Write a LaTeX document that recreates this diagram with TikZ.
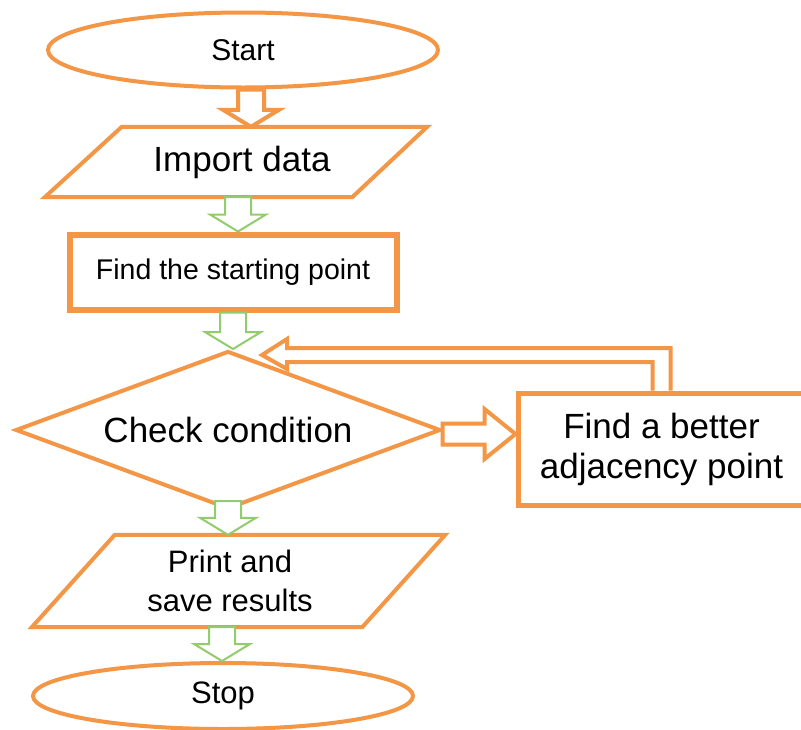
\documentclass[tikz,border=0pt]{standalone}
\usepackage{fontspec}
\setmainfont{Liberation Sans}
\usetikzlibrary{shapes.geometric, calc}

\definecolor{flowOrange}{RGB}{243,150,70}
\definecolor{flowGreen}{RGB}{146,204,110}

% hollow block arrow pointing down, #2 = top of shaft, #3 = tip
\newcommand\blockdown[3]{%
  \path[#1] let \p1=#2, \p2=#3 in
    (\x1-13pt,\y1) -- (\x1+13pt,\y1) -- (\x1+13pt,\y2+17pt) -- (\x1+28pt,\y2+17pt)
    -- (\x1,\y2) -- (\x1-28pt,\y2+17pt) -- (\x1-13pt,\y2+17pt) -- cycle;}

\tikzset{
  terminal/.style={ellipse, draw=flowOrange, line width=4pt, fill=white},
  process/.style={rectangle, draw=flowOrange, line width=5pt, fill=white},
  decision/.style={diamond, draw=flowOrange, line width=4pt, fill=white, aspect=2.7, inner sep=0pt},
  iobody/.style={rectangle, inner sep=0pt},
  ioline/.style={draw=flowOrange, line width=4pt},
  greenblock/.style={draw=flowGreen, line width=2pt, fill=white},
  orangeblock/.style={draw=flowOrange, line width=4pt, fill=white},
}

\begin{document}
\begin{tikzpicture}[x=1pt, y=-1pt]
\useasboundingbox[fill=white] (0,0) rectangle (801,729);

\begin{scope}[every node/.style={align=center}]
    \node (start) at (243, 50) [terminal, minimum width=390, minimum height=75,
        font=\fontsize{30}{36}\selectfont] {Start};

    \node (import) at (242, 162) [iobody, minimum width=306, minimum height=70,
        font=\fontsize{35}{42}\selectfont] {Import data};

    \node (find) at (233, 272) [process, line width=6pt, minimum width=327, minimum height=75,
        font=\fontsize{28.5}{34}\selectfont] {Find the starting point};

    \node (check) at (228, 430) [decision, minimum width=425, minimum height=158,
        font=\fontsize{35}{42}\selectfont] {Check condition};

    \node (better) at (661.5, 449) [process, minimum width=287, minimum height=112,
        font=\fontsize{35}{40}\selectfont] {Find a better\\adjacency point};

    \node (print) at (230, 581) [iobody, minimum width=330, minimum height=92,
        font=\fontsize{31}{39}\selectfont] {Print and\\save results};

    \node (stop) at (223, 696) [terminal, minimum width=380, minimum height=66,
        font=\fontsize{31}{37}\selectfont] {Stop};
\end{scope}

% parallelogram outlines
\path[ioline] ([xshift=33pt]import.north west) -- ([xshift=32pt]import.north east)
    -- ([xshift=-43pt]import.south east) -- ([xshift=-44pt]import.south west) -- cycle;
\path[ioline] ([xshift=50pt]print.north west) -- ([xshift=50pt]print.north east)
    -- ([xshift=-33pt]print.south east) -- ([xshift=-33pt]print.south west) -- cycle;

% block arrows
\blockdown{orangeblock}{([xshift=8pt]start.south)}{(import.north)}
\blockdown{greenblock}{([xshift=-4pt]import.south)}{(find.north)}
\blockdown{greenblock}{(find.south)}{(check.north)}
\blockdown{greenblock}{([yshift=10pt]check.south)}{(print.north)}
\blockdown{greenblock}{([xshift=-8pt]print.south)}{(stop.north)}

\path[orangeblock] let \p1=([yshift=-4pt]check.east), \p2=(better.west) in
    (\x1,\y1+10.5pt) -- (\x2-31pt,\y1+10.5pt) -- (\x2-31pt,\y1+25pt) -- (\x2,\y1)
    -- (\x2-31pt,\y1-25pt) -- (\x2-31pt,\y1-10.5pt) -- (\x1,\y1-10.5pt) -- cycle;

% loop back to the condition
\path[orangeblock, fill=none] let \p1=(better.north west), \p2=(check.north) in
    (\x1+137pt,\y1) -- (\x1+137pt,\y2-13pt) -- (\x2+59pt,\y2-13pt) -- (\x2+59pt,\y2-20pt)
    -- (\x2+34pt,\y2-6pt) -- (\x2+59pt,\y2+10pt) -- (\x2+59pt,\y2+1pt)
    -- (\x1+155pt,\y2+1pt) -- (\x1+155pt,\y1);
\end{tikzpicture}
\end{document}
